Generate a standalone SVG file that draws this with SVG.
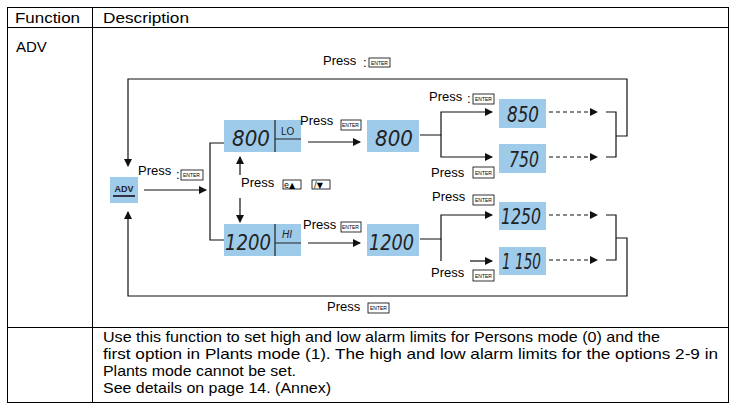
<svg xmlns="http://www.w3.org/2000/svg" width="733" height="408" viewBox="0 0 733 408">
<defs>
<marker id="ah" markerWidth="8" markerHeight="8" refX="7" refY="4" orient="auto" markerUnits="userSpaceOnUse"><path d="M0,0 L8,4 L0,8 Z" fill="#111"/></marker>
</defs>
<style>
.t{font-family:"Liberation Sans",Arial,sans-serif;font-size:15px;fill:#000}
.p{font-family:"Liberation Sans",Arial,sans-serif;font-size:13px;fill:#000}
.k{font-family:"Liberation Sans",Arial,sans-serif;font-size:5px;fill:#000}
.kb{fill:#fff;stroke:#000;stroke-width:0.8}
.lcd{fill:#9fcbea}
.d{font-family:"DejaVu Sans",sans-serif;font-size:22px;font-style:italic;fill:#222}
.ln{fill:none;stroke:#111;stroke-width:1.2}
.dash{fill:none;stroke:#111;stroke-width:1.1;stroke-dasharray:4,3}
</style>
<rect width="733" height="408" fill="#fff"/>
<g id="table" fill="none" stroke="#000" stroke-width="1">
<rect x="7.5" y="7.5" width="721" height="395"/>
<line x1="7.5" y1="27.5" x2="728.5" y2="27.5"/>
<line x1="92.5" y1="7.5" x2="92.5" y2="402.5"/>
<line x1="7.5" y1="327.5" x2="728.5" y2="327.5"/>
</g>
<text class="t" x="15" y="23" textLength="65" lengthAdjust="spacingAndGlyphs">Function</text>
<text class="t" x="103" y="23" textLength="86" lengthAdjust="spacingAndGlyphs">Description</text>
<text class="t" x="16" y="52">ADV</text>
<g id="connectors">
<path class="ln" d="M616,136 H627 V79 H128 V166" marker-end="url(#ah)"/>
<path class="ln" d="M616,238 H627 V296 H128 V212" marker-end="url(#ah)"/>
<path class="ln" d="M606,112 H616 V157 H606"/>
<path class="ln" d="M606,215 H616 V260 H606"/>
<path class="ln" d="M144,190 H206" marker-end="url(#ah)"/>
<path class="ln" d="M224,143 H210 V240 H224"/>
<path class="ln" d="M240,175 V157" marker-end="url(#ah)"/>
<path class="ln" d="M240,198 V222" marker-end="url(#ah)"/>
<path class="ln" d="M308,142 H360" marker-end="url(#ah)"/>
<path class="ln" d="M308,243 H360" marker-end="url(#ah)"/>
<path class="ln" d="M420,135 H441 V157 H492" marker-end="url(#ah)"/>
<path class="ln" d="M441,135 V112 H492" marker-end="url(#ah)"/>
<path class="ln" d="M420,239 H441 V215 H492" marker-end="url(#ah)"/>
<path class="ln" d="M441,239 V261"/>
<path class="ln" d="M470,261 H492" marker-end="url(#ah)"/>
<path class="dash" d="M549,112 H597" marker-end="url(#ah)"/>
<path class="dash" d="M549,157 H597" marker-end="url(#ah)"/>
<path class="dash" d="M549,215 H597" marker-end="url(#ah)"/>
<path class="dash" d="M549,260 H597" marker-end="url(#ah)"/>
</g>
<g id="adv"><rect class="lcd" x="110" y="177" width="28" height="26"/><text x="124" y="192" text-anchor="middle" font-family="Liberation Sans,sans-serif" font-weight="bold" font-size="9" fill="#223">ADV</text><rect x="113" y="195" width="22" height="2" fill="#334"/></g>
<g id="lo800"><rect class="lcd" x="224" y="120" width="77" height="32"/><path d="M275,120 V152 M275,139 H301" stroke="#222" stroke-width="1.2"/><text class="d" x="232" y="146" textLength="38" lengthAdjust="spacingAndGlyphs">800</text><text x="281" y="135" font-family="Liberation Sans,sans-serif" font-size="10" fill="#222">LO</text></g>
<g id="hi1200"><rect class="lcd" x="224" y="224" width="77" height="32"/><path d="M275,224 V256 M275,243 H301" stroke="#222" stroke-width="1.2"/><text class="d" x="225" y="250" textLength="46" lengthAdjust="spacingAndGlyphs">1200</text><text x="282" y="238" font-family="Liberation Sans,sans-serif" font-size="10" font-style="italic" fill="#222">HI</text></g>
<g id="v800"><rect class="lcd" x="367" y="120" width="52" height="32"/><text class="d" x="375" y="146" textLength="38" lengthAdjust="spacingAndGlyphs" fill="#345">800</text></g>
<g id="v1200"><rect class="lcd" x="367" y="224" width="52" height="32"/><text class="d" x="369" y="250" textLength="45" lengthAdjust="spacingAndGlyphs" fill="#345">1200</text></g>
<g id="v850"><rect class="lcd" x="499" y="99" width="47" height="29"/><text class="d" x="507" y="122" font-size="19" textLength="32" lengthAdjust="spacingAndGlyphs">850</text></g>
<g id="v750"><rect class="lcd" x="499" y="144" width="47" height="29"/><text class="d" x="509" y="167" font-size="19" textLength="30" lengthAdjust="spacingAndGlyphs">750</text></g>
<g id="v1250"><rect class="lcd" x="499" y="202" width="47" height="28"/><text class="d" x="501" y="224" font-size="19" textLength="40" lengthAdjust="spacingAndGlyphs">1250</text></g>
<g id="v1150"><rect class="lcd" x="499" y="247" width="47" height="28"/><text class="d" x="502" y="269" font-size="19" textLength="39" lengthAdjust="spacingAndGlyphs">1 150</text></g>
<g id="labels">
<text class="p" x="323" y="65">Press</text><text class="p" x="363" y="67">:</text><rect class="kb" x="369" y="58" width="21" height="9"/><text class="k" x="371" y="64.5">ENTER</text>
<text class="p" x="138" y="175">Press</text><text class="p" x="176" y="179">:</text><rect class="kb" x="181" y="170" width="22" height="10"/><text class="k" x="183" y="177">ENTER</text>
<text class="p" x="300" y="125">Press</text><rect class="kb" x="341" y="120" width="20" height="10"/><text class="k" x="342" y="127">ENTER</text>
<text class="p" x="241" y="187">Press</text><rect class="kb" x="283" y="180" width="18" height="9"/><text x="284" y="188" font-family="DejaVu Sans,sans-serif" font-size="8">e▲</text><rect class="kb" x="312" y="180" width="18" height="9"/><text x="314" y="188" font-family="DejaVu Sans,sans-serif" font-size="8">/▼</text>
<text class="p" x="303" y="229">Press</text><rect class="kb" x="341" y="222" width="20" height="10"/><text class="k" x="342" y="229">ENTER</text>
<text class="p" x="429" y="101">Press</text><text class="p" x="467" y="103">:</text><rect class="kb" x="473" y="94" width="21" height="10"/><text class="k" x="475" y="101">ENTER</text>
<text class="p" x="431" y="177">Press</text><rect class="kb" x="473" y="167" width="21" height="11"/><text class="k" x="475" y="174.5">ENTER</text>
<text class="p" x="432" y="201">Press</text><rect class="kb" x="473" y="195" width="21" height="10"/><text class="k" x="475" y="202">ENTER</text>
<text class="p" x="431" y="277">Press</text><rect class="kb" x="473" y="270" width="21" height="11"/><text class="k" x="475" y="277.5">ENTER</text>
<text class="p" x="327" y="311">Press</text><rect class="kb" x="368" y="303" width="21" height="10"/><text class="k" x="370" y="310">ENTER</text>
</g>
<text class="t" x="103" y="342" textLength="557" lengthAdjust="spacingAndGlyphs">Use this function to set high and low alarm limits for Persons mode (0) and the</text>
<text class="t" x="103" y="359" textLength="615" lengthAdjust="spacingAndGlyphs">first option in Plants mode (1). The high and low alarm limits for the options 2-9 in</text>
<text class="t" x="103" y="376" textLength="193" lengthAdjust="spacingAndGlyphs">Plants mode cannot be set.</text>
<text class="t" x="103" y="393" textLength="228" lengthAdjust="spacingAndGlyphs">See details on page 14. (Annex)</text>
</svg>
